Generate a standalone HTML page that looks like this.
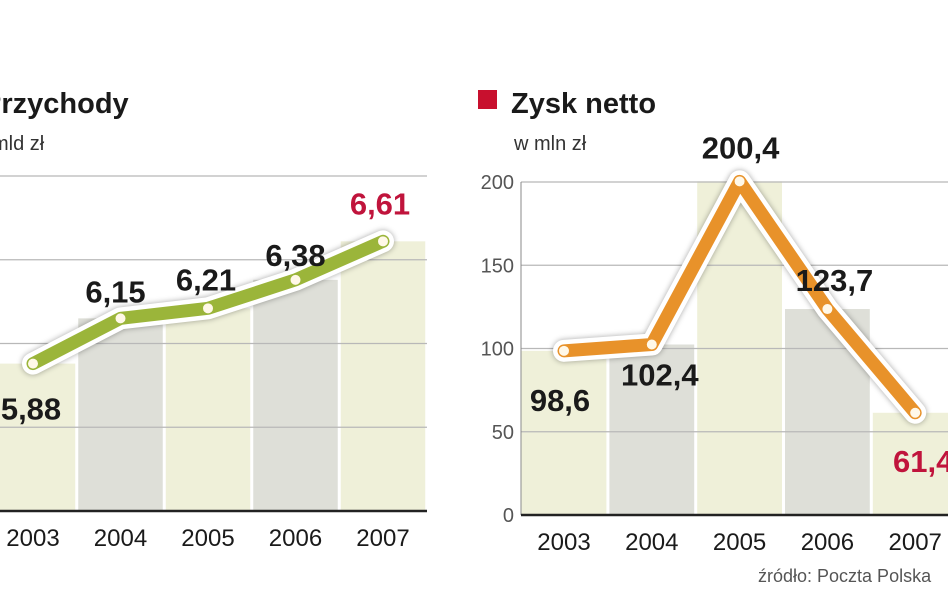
<!DOCTYPE html>
<html><head><meta charset="utf-8"><style>
html,body{margin:0;padding:0;background:#fff;}
svg{display:block;font-family:"Liberation Sans",sans-serif;}
</style></head><body>
<svg id="c" width="948" height="593" viewBox="0 0 948 593" xmlns="http://www.w3.org/2000/svg">
<text x="-18" y="113" font-size="29" font-weight="bold" fill="#1a1a1a">Przychody</text>
<text x="-28" y="150" font-size="20" fill="#333">w mld zł</text>
<rect x="478" y="90" width="19" height="19" fill="#c8102e"/>
<text x="511" y="113" font-size="29" font-weight="bold" fill="#1a1a1a">Zysk netto</text>
<text x="514" y="150" font-size="20" fill="#333">w mln zł</text>
<text x="758" y="582" font-size="18" fill="#555">źródło: Poczta Polska</text>
<g id="L"></g><g id="R"></g>
</svg>
<script>
const years = ["2003","2004","2005","2006","2007"];
const revenue = [5.88, 6.15, 6.21, 6.38, 6.61];
const revenueLabels = ["5,88","6,15","6,21","6,38","6,61"];
const revenueTicks = [5, 5.5, 6, 6.5, 7];
const profit = [98.6, 102.4, 200.4, 123.7, 61.4];
const profitLabels = ["98,6","102,4","200,4","123,7","61,4"];
const profitTicks = [0, 50, 100, 150, 200];

const NS="http://www.w3.org/2000/svg";
function mk(tag,attrs,parent){const e=document.createElementNS(NS,tag);for(const k in attrs)e.setAttribute(k,attrs[k]);parent.appendChild(e);return e;}

function drawChart(g, cfg){
  const y = v => cfg.base - (v-cfg.min)/(cfg.max-cfg.min)*(cfg.base-cfg.top);
  const x = i => cfg.x0 + i*cfg.step;
  cfg.values.forEach((v,i)=>{
    const r=mk('rect',{x:x(i)-cfg.step/2+1.5,y:y(v),width:cfg.step-3,height:cfg.base-y(v),fill:i%2?'#dedfd8':'#eff0d9'},g);
    
    
  });
  cfg.ticks.forEach(t=>{
    if(t===cfg.min) return;
    const l=mk('line',{x1:cfg.gx0,x2:cfg.gx1,y1:y(t),y2:y(t),stroke:'#b8b8b8','stroke-width':1.2},g);
    
    
    if(cfg.showTicks){
      const tl=mk('text',{x:cfg.gx0-7,y:y(t)+7,'text-anchor':'end','font-size':20,fill:'#555'},g);
      tl.textContent=String(t);
      
      
    }
  });
  if(cfg.showTicks){
    const t0=mk('text',{x:cfg.gx0-7,y:cfg.base+7,'text-anchor':'end','font-size':20,fill:'#555'},g);
    t0.textContent=String(cfg.min);
    
    
    const ax=mk('line',{x1:cfg.gx0,x2:cfg.gx0,y1:cfg.top,y2:cfg.base,stroke:'#888','stroke-width':1},g);
    
    
  }
  const bl=mk('line',{x1:cfg.gx0,x2:cfg.gx1,y1:cfg.base,y2:cfg.base,stroke:'#222','stroke-width':2.5},g);
  
  
  cfg.cats.forEach((c,i)=>{
    const t=mk('text',{x:x(i),y:cfg.base+35,'text-anchor':'middle','font-size':24,fill:'#1a1a1a'},g);
    t.textContent=c;
    
    
  });
  const pts=cfg.values.map((v,i)=>x(i)+','+y(v)).join(' ');
  const o=mk('polyline',{points:pts,fill:'none',stroke:'#fff','stroke-width':cfg.lw+9,'stroke-linejoin':'round','stroke-linecap':'round',style:'filter:drop-shadow(0 0 3px rgba(0,0,0,0.35))'},g);
  
  
  const p=mk('polyline',{points:pts,fill:'none',stroke:cfg.color,'stroke-width':cfg.lw,'stroke-linejoin':'round','stroke-linecap':'round'},g);
  
  
  cfg.values.forEach((v,i)=>{
    const d=mk('circle',{cx:x(i),cy:y(v),r:5,fill:'#fff8e8'},g);
    
    
    const lt=mk('text',{x:x(i)+cfg.off[i][0],y:y(v)+cfg.off[i][1],'text-anchor':'middle','font-size':31,'font-weight':'bold',fill:i===cfg.values.length-1?'#c0143c':'#1a1a1a'},g);
    lt.textContent=cfg.labels[i];
    
    
  });
}
drawChart(document.getElementById('L'),{cats:years,values:revenue,labels:revenueLabels,ticks:revenueTicks,min:5,max:7,
  base:511,top:176,x0:33,step:87.5,gx0:-5,gx1:427,color:'#9bb53a',lw:13,showTicks:false,
  off:[[-2,56],[-5,-16],[-2,-18],[0,-14],[-3,-27]]});
drawChart(document.getElementById('R'),{cats:years,values:profit,labels:profitLabels,ticks:profitTicks,min:0,max:200,
  base:515,top:182,x0:564,step:87.8,gx0:521,gx1:948,color:'#e8922a',lw:13,showTicks:true,
  off:[[-4,60],[8,41],[1,-23],[7,-18],[8,59]]});
</script>
</body></html>
